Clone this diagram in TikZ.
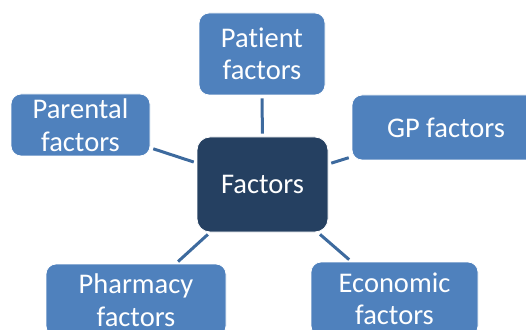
\documentclass[tikz,border=0pt]{standalone}
\usepackage{fontspec}
\setmainfont{Carlito}[RawFeature=-liga]
\usepackage{tikz}
\usetikzlibrary{shapes}

\definecolor{boxblue}{HTML}{4F81BD}
\definecolor{boxdark}{HTML}{254061}
\definecolor{linkblue}{HTML}{3D6A9E}

\begin{document}
\begin{tikzpicture}[x=1pt, y=1pt,
  factor/.style = {draw=white, line width=0.8pt, fill=boxblue, rounded corners=10pt,
    text=white, align=center, inner sep=0pt, font=\fontsize{28.5}{32.5}\selectfont},
  hub/.style = {factor, fill=boxdark, rounded corners=13pt},
  link/.style = {draw=linkblue, line width=3pt, shorten <=3pt, shorten >=3pt}]
\useasboundingbox (0,0) rectangle (526,329);
\clip (0,0) rectangle (526,329);
\node[hub, minimum width=131pt, minimum height=95pt] (factors) at (262.5,144.5) {Factors};
\node[factor, minimum width=126pt, minimum height=82pt] (patient) at (262,275) {Patient\\factors};
\node[factor, minimum width=139pt, minimum height=62pt] (parental) at (80.5,204) {Parental\\factors};
\node[factor, minimum width=188pt, minimum height=65pt] (gp) at (446,201.5) {GP factors};
\node[factor, minimum width=180pt, minimum height=72pt] (pharmacy) at (136,29) {Pharmacy\\factors};
\node[factor, minimum width=167pt, minimum height=74pt] (economic) at (394.5,30) {Economic\\factors};
\draw[link] (factors) -- (patient);
\draw[link] (factors) -- (parental);
\draw[link] (factors) -- (gp);
\draw[link] (factors) -- (pharmacy);
\draw[link] (factors) -- (economic);
\end{tikzpicture}
\end{document}
